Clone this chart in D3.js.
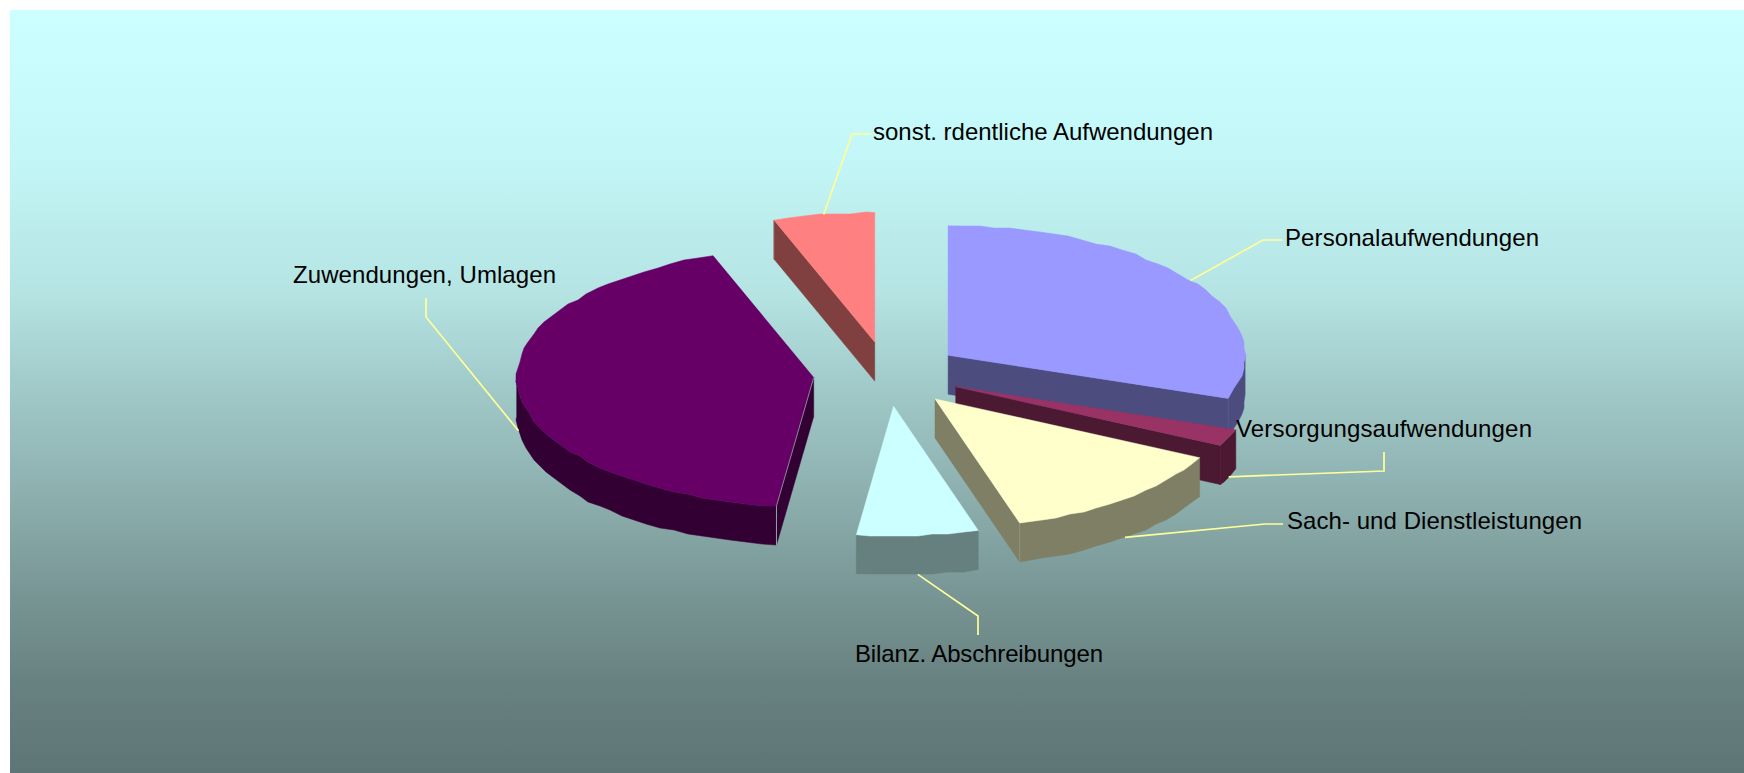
<!DOCTYPE html>
<html>
<head>
<meta charset="utf-8">
<script src="https://cdn.jsdelivr.net/npm/d3@7"></script>
<style>
	html, body { margin: 0; padding: 0; background: #fff; }
	svg { display: block; }
	text { font-family: "Liberation Sans", Arial, sans-serif; font-size: 24px; fill: #000; }
</style>
</head>
<body>
<svg></svg>
<script>
	// shares, in drawing order clockwise from 12 o'clock
	var categories = ["Personalaufwendungen", "Versorgungsaufwendungen", "Sach- und Dienstleistungen", "Bilanz. Abschreibungen", "Zuwendungen, Umlagen", "sonst. rdentliche Aufwendungen"];
	var shares = [30.4, 2.1, 12.9, 6.6, 42.5, 5.5];
	var topColors = ["#9999ff", "#993366", "#ffffcc", "#ccffff", "#660066", "#ff8080"];
	var sideColors = ["#4c4c7f", "#4c1933", "#7f7f66", "#667f7f", "#330033", "#804040"];

	// label layout: [text x, baseline, text width] and leader elbow + leader end
	var labelPos = [[1285, 246, 254], [1236, 437, 296], [1287, 529, 295], [855, 662, 248], [293, 283, 263], [873, 140, 340]];
	var leaderBends = [[[1263, 240], [1282, 240]], [[1384, 471], [1384, 452]], [[1265, 524], [1283, 524]], [[978, 616], [978, 635]], [[426, 317], [426, 298]], [[852, 134], [871, 134]]];

	// background colour by height, it is not a straight ramp in the original
	var bgOffsets = [0, 0.18, 0.375, 0.503, 0.633, 0.763, 0.878, 1];
	var bgColors = ["#ccffff", "#c4f8f8", "#b4e3e2", "#9fc8c7", "#8db0af", "#789695", "#688281", "#5e7575"];

	var width = 1744,
		height = 773;

	var cx = 887.5, cy = 374,
		rx = 297, ry = 129.5,
		depth = 39,
		explode = 0.25;

	var scaleX = d3.scaleLinear().domain([-1, 1]).range([cx - rx, cx + rx]);
	var scaleY = d3.scaleLinear().domain([-1, 1]).range([cy - ry, cy + ry]);

	var svg = d3.select("svg").attr("width", width).attr("height", height);

	var grad = svg.append("defs").append("linearGradient")
		.attr("id", "bg").attr("x1", 0).attr("y1", 0).attr("x2", 0).attr("y2", 1);
	bgOffsets.forEach(function(o, i) {
		grad.append("stop").attr("offset", o).attr("stop-color", bgColors[i]);
	});

	svg.append("rect")
		.attr("x", 10).attr("y", 10)
		.attr("width", width - 10).attr("height", height - 10)
		.attr("fill", "url(#bg)");

	var pie = d3.pie().sort(null).value(function(d) { return d; });
	var slices = pie(shares).map(function(s) {
		var mid = (s.startAngle + s.endAngle) / 2;
		s.mid = mid;
		s.ox = (scaleX(Math.sin(mid) * explode) - cx);
		s.oy = (scaleY(-Math.cos(mid) * explode) - cy);
		return s;
	});

	var point = function(s, angle, dy) {
		return [scaleX(Math.sin(angle)) + s.ox, scaleY(-Math.cos(angle)) + s.oy + (dy || 0)];
	};
	var apex = function(s, dy) {
		return [cx + s.ox, cy + s.oy + (dy || 0)];
	};

	// the outline of the original is a coarse polygon, snapped to a rough grid
	var arcPoints = function(s, a0, a1, dy) {
		var pts = [point(s, a0, dy)];
		var step = Math.PI / 60;
		for (var a = a0 + step; a < a1 - step / 2; a += step) {
			var p = point(s, a, dy);
			pts.push([Math.round(p[0] / 2) * 2, Math.round(p[1] / 2) * 2]);
		}
		pts.push(point(s, a1, dy));
		return pts;
	};

	var line = d3.line().curve(d3.curveLinearClosed);
	var open = d3.line();

	var wall = function(g, s, angle, color) {
		var e = point(s, angle);
		g.append("path")
			.attr("d", line([apex(s), apex(s, depth), point(s, angle, depth), e]))
			.attr("fill", color).attr("stroke", color).attr("stroke-width", 0.5);
		return e;
	};

	var pieLayer = svg.append("g");

	// back to front
	var order = slices.slice().sort(function(a, b) { return Math.cos(b.mid) - Math.cos(a.mid); });

	order.forEach(function(s) {
		var side = sideColors[s.index],
			g = pieLayer.append("g").attr("class", "slice");

		var seams = [];
		if (Math.sin(s.startAngle) < -0.001) {
			wall(g, s, s.startAngle, side);
			seams.push(s.startAngle);
		}
		if (Math.sin(s.endAngle) > 0.001) {
			wall(g, s, s.endAngle, side);
			seams.push(s.endAngle);
		}

		// outer rim, only the part that faces the viewer
		var a0 = Math.max(s.startAngle, Math.PI / 2),
			a1 = Math.min(s.endAngle, 3 * Math.PI / 2);
		if (a1 > a0) {
			var rim = arcPoints(s, a0, a1, 0).concat(arcPoints(s, a0, a1, depth).reverse());
			g.append("path")
				.attr("d", line(rim))
				.attr("fill", side).attr("stroke", side).attr("stroke-width", 0.5);
		}

		seams.forEach(function(angle) {
			g.append("path")
				.attr("d", open([point(s, angle), point(s, angle, depth)]))
				.attr("fill", "none")
				.attr("stroke", s.index == 4 ? "#8fa5a5" : d3.color(side).brighter(0.4))
				.attr("stroke-width", 1);
		});

		var face = [apex(s)].concat(arcPoints(s, s.startAngle, s.endAngle, 0));
		g.append("path")
			.attr("d", line(face))
			.attr("fill", topColors[s.index]).attr("stroke", topColors[s.index]).attr("stroke-width", 0.5);

		if (s.index == 4) {
			// thin light gap along the front cut of the big slice
			g.append("path")
				.attr("d", open([apex(s), point(s, s.startAngle)]))
				.attr("fill", "none").attr("stroke", "#8fa5a5").attr("stroke-width", 0.8);
		}
	});

	// leader lines start at the middle of each slice's rim
	var leaderLayer = svg.append("g");
	slices.forEach(function(s, i) {
		var dy = Math.cos(s.mid) < 0 ? depth : 0;
		leaderLayer.append("path")
			.attr("d", open([point(s, s.mid, dy)].concat(leaderBends[i])))
			.attr("fill", "none")
			.attr("stroke", "#ffff99")
			.attr("stroke-width", 1.7);
	});

	svg.append("g").selectAll("text")
		.data(categories)
		.join("text")
		.attr("x", function(d, i) { return labelPos[i][0]; })
		.attr("y", function(d, i) { return labelPos[i][1]; })
		.attr("textLength", function(d, i) { return labelPos[i][2]; })
		.attr("lengthAdjust", "spacing")
		.text(function(d) { return d; });
</script>
</body>
</html>
